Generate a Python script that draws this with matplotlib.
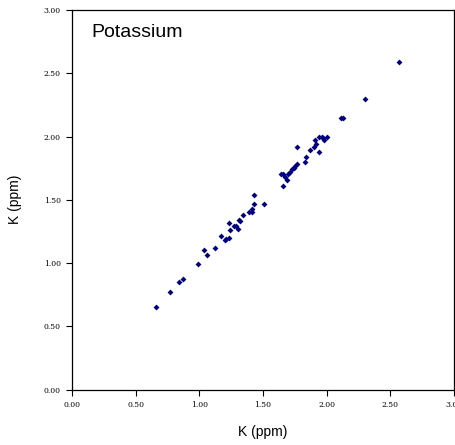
import matplotlib.pyplot as plt
from matplotlib.ticker import FixedLocator

# K (ppm) values, method A vs method B
k_x = [0.66, 0.77, 0.84, 0.87, 0.99, 1.06, 1.04, 1.12, 1.17, 1.20, 1.21, 1.23,
       1.23, 1.24, 1.27, 1.29, 1.30, 1.31, 1.32, 1.34, 1.39, 1.41, 1.41, 1.43,
       1.43, 1.51, 1.66, 1.69, 1.64, 1.66, 1.67, 1.70, 1.71, 1.73, 1.74, 1.75,
       1.77, 1.77, 1.83, 1.84, 1.87, 1.90, 1.92, 1.94, 1.91, 1.94, 1.97, 1.98,
       2.00, 1.96, 2.11, 2.13, 2.30, 2.57]
k_y = [0.65, 0.77, 0.85, 0.87, 0.99, 1.06, 1.10, 1.12, 1.21, 1.18, 1.19, 1.20,
       1.32, 1.26, 1.29, 1.29, 1.27, 1.34, 1.33, 1.38, 1.40, 1.40, 1.43, 1.47,
       1.54, 1.47, 1.61, 1.66, 1.70, 1.70, 1.68, 1.70, 1.72, 1.74, 1.75, 1.77,
       1.78, 1.92, 1.80, 1.84, 1.89, 1.92, 1.94, 1.88, 1.97, 2.00, 1.99, 1.97,
       2.00, 2.00, 2.15, 2.15, 2.30, 2.59]
ticks = [0.0, 0.5, 1.0, 1.5, 2.0, 2.5, 3.0]

fig = plt.figure(figsize=(4.56, 4.45), dpi=100)
ax = fig.add_axes([0.158, 0.1247, 0.8376, 0.8528])

ax.scatter(k_x, k_y, marker='D', s=9, color='#000080', linewidths=0)

ax.set_xlim(0, 3)
ax.set_ylim(0, 3)
ax.xaxis.set_major_locator(FixedLocator(ticks))
ax.yaxis.set_major_locator(FixedLocator(ticks))
ax.set_xticklabels([f"{t:.2f}" for t in ticks], family='DejaVu Serif', fontsize=5.5)
ax.set_yticklabels([f"{t:.2f}" for t in ticks], family='DejaVu Serif', fontsize=5.5)
ax.tick_params(direction='out', length=4, width=0.8, pad=4)
for s in ax.spines.values():
    s.set_linewidth(0.9)

ax.set_xlabel("K (ppm)", family='Liberation Sans', fontsize=10, labelpad=12)
ax.set_ylabel("K (ppm)", family='Liberation Sans', fontsize=10, labelpad=16)
ax.text(0.05, 0.94, "Potassium", transform=ax.transAxes, family='Liberation Sans',
        fontsize=14, va='center', ha='left')

fig.savefig("out.png", dpi=100)
